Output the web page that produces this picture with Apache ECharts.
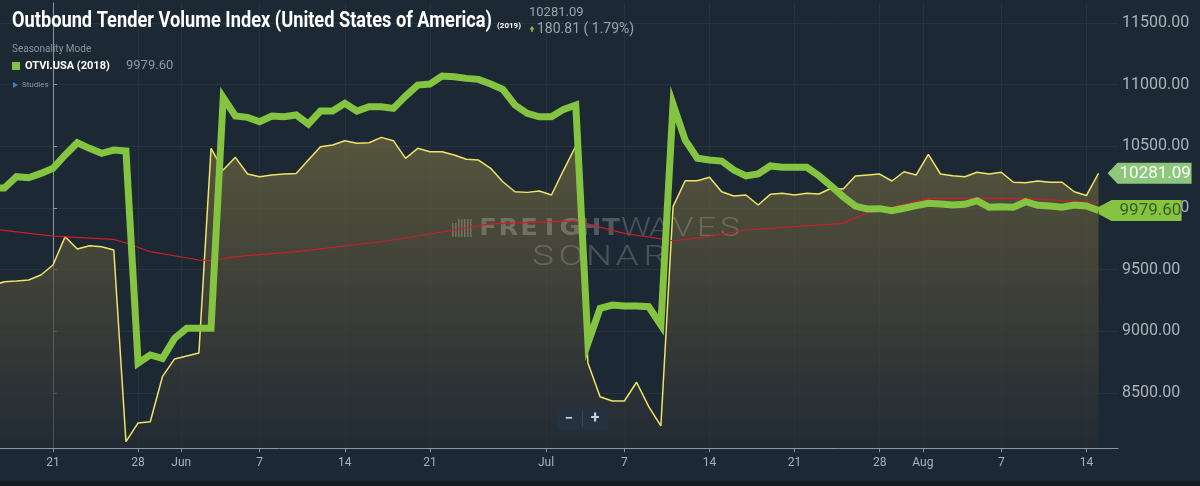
<!DOCTYPE html>
<html><head><meta charset="utf-8">
<script src="https://cdn.jsdelivr.net/npm/echarts@6/dist/echarts.min.js"></script>
<style>html,body{margin:0;padding:0;background:#1c2834;}#c{width:1200px;height:486px;}</style>
</head><body><div id="c"></div>
<script>
// day offsets relative to 21 May (2019 calendar)
const startDay = -5;
const otvi2019 = [9370,9402,9408,9416,9456,9537,9767,9667,9694,9686,9659,8105,8257,8267,8632,8776,8800,8824,
  10483,10307,10410,10275,10253,10267,10275,10278,10388,10496,10510,10545,10524,10528,10572,10545,10402,10483,
  10455,10455,10429,10394,10388,10321,10212,10131,10126,10137,10105,10307,10502,8743,8470,8435,8435,8587,8389,8233,
  10010,10220,10220,10248,10131,10096,10105,10024,10110,10118,10105,10118,10113,10159,10153,10259,10267,10274,
  10218,10293,10267,10434,10275,10261,10253,10289,10275,10289,10208,10204,10218,10208,10208,10131,10100.28,10281.09];
const otvi2018 = [10161,10161,10253,10245,10280,10321,10429,10528,10483,10443,10469,10461,8741,8808,8781,8943,9024,9024,
  9024,10895,10745,10734,10699,10745,10739,10753,10680,10785,10785,10848,10785,10820,10820,10807,10906,10996,
  11004,11069,11063,11050,11042,11004,10961,10834,10767,10739,10739,10799,10834,8903,9186,9213,9205,9205,9199,9051,
  10842,10550,10402,10388,10380,10307,10259,10275,10340,10329,10329,10329,10261,10178,10091,10015,9991,9994,
  9977,9997,10018,10037,10032,10024,10029,10058,10005,10010,10005,10050,10021,10015,10005,10024,10015,9979.6];
const redDays = [-5,0,5,6,8,12,13,15,20,27,33,36,43,47,51,53,57,65,67,68,72,80,86];
const redVals = [9830,9772,9745,9716,9645,9578,9572,9605,9645,9726,9821,9870,9895,9794,9734,9754,9821,9875,9961,9983,10078,10078,10042];
const tickDays = [0,7,11,17,24,31,41,47,54,61,68,72,78,85];
const tickLabels = ['21','28','Jun','7','14','21','Jul','7','14','21','28','Aug','7','14'];
const yTicks = [8500,9000,9500,10000,10500,11000,11500];
const lastValue2019 = 10281.09, change = 180.81, changePct = 1.79, lastValue2018 = 9979.60;

const monthShift = -0.45;
const tickPos = tickDays.map((d,i)=> /[A-Za-z]/.test(tickLabels[i]) ? d + monthShift : d);
const toPairs = (arr)=>arr.map((v,i)=>[startDay+i, v]);

const chart = echarts.init(document.getElementById('c'), null, {renderer:'canvas'});
const FONT = 'Roboto, "Noto Sans", sans-serif';
chart.setOption({
  backgroundColor:'#1c2834',
  animation:false,
  grid:{left:0,right:82,top:3,bottom:38},
  xAxis:{type:'value',min:-4.36,max:87.6,
    axisLine:{show:true,lineStyle:{color:'#8b96a1',width:1}},
    axisTick:{show:true,customValues:tickPos,length:4,lineStyle:{color:'#8b96a1'}},
    axisLabel:{customValues:tickPos,color:'#a9b2bb',fontSize:12,fontFamily:FONT,margin:9,
      formatter:(v)=>{const i=tickPos.findIndex(p=>Math.abs(p-v)<0.01);return i>=0?tickLabels[i]:'';}},
    splitLine:{show:true,lineStyle:{color:'#26323e',width:1}}},
  yAxis:{type:'value',position:'right',min:8054,max:11661,scale:true,
    axisLine:{show:true,lineStyle:{color:'#8b96a1',width:1}},
    axisTick:{show:true,customValues:yTicks,length:4,lineStyle:{color:'#8b96a1'}},
    axisLabel:{customValues:yTicks,color:'#aab3bc',fontSize:16,fontFamily:FONT,margin:4,
      formatter:(v)=>v.toFixed(2)},
    splitLine:{show:true,lineStyle:{color:'#27333f',width:1}}},
  series:[
    {type:'line',name:'2019',data:toPairs(otvi2019),showSymbol:false,z:2,
      lineStyle:{color:'#f2e366',width:1.5},
      areaStyle:{color:new echarts.graphic.LinearGradient(0,0,0,1,[
        {offset:0,color:'#6f6841'},{offset:0.45,color:'#504c3a'},{offset:1,color:'#242c34'}])}},
    {type:'line',name:'red',data:redDays.map((d,i)=>[d,redVals[i]]),showSymbol:false,z:3,
      lineStyle:{color:'#cc1f26',width:1.2}},
    {type:'line',name:'OTVI.USA (2018)',data:toPairs(otvi2018),showSymbol:false,z:4,
      lineStyle:{color:'#84c441',width:7,join:'miter',miterLimit:8}}
  ]
});

// measure text for condensed title
const cv=document.createElement('canvas').getContext('2d');
const title='Outbound Tender Volume Index (United States of America)';
cv.font='bold 22px Roboto';
const tScale=480/cv.measureText(title).width;

const p19=chart.convertToPixel({gridIndex:0},[startDay+otvi2019.length-1,lastValue2019]);
const p18=chart.convertToPixel({gridIndex:0},[startDay+otvi2018.length-1,lastValue2018]);

function spaced(text,x,y,step,font,fill,sx){
  return text.split('').map((ch,i)=>({type:'text',silent:true,z:2.5,x:x+i*step,y:y,scaleX:sx,
    style:{text:ch,x:0,y:0,font:font,fill:fill,textAlign:'center',textVerticalAlign:'middle'}}));
}
const wmBold='rgba(205,205,195,0.30)';
const wmThin='rgba(205,205,195,0.26)';
const g=[];
// watermark
for(let i=0;i<7;i++){g.push({type:'rect',silent:true,z:2.5,shape:{x:452+i*3,y:219+(i<2?4:0),width:1.6,height:(i<2?14:18)},style:{fill:wmBold}});}
g.push(...spaced('FREIGHT',488,229,20.5,'900 23px "DejaVu Sans", Roboto',wmBold,1.12));
g.push(...spaced('WAVES',636,229,23.5,'300 26px Roboto',wmThin,1.3));
g.push(...spaced('SONAR',543,258,28,'300 28px Roboto',wmThin,1.3));
// header
g.push({type:'text',z:10,left:12,top:10,scaleX:tScale,originX:0,style:{text:title,font:'bold 22px Roboto',fill:'#ffffff'}});
g.push({type:'text',z:10,style:{text:'(2019)',x:497,y:26,font:'bold 8px Roboto',fill:'#ffffff',textVerticalAlign:'middle'}});
g.push({type:'text',z:10,style:{text:lastValue2019.toFixed(2),x:529,y:13,font:'13px Roboto',fill:'#9ba4ad',textVerticalAlign:'middle'}});
g.push({type:'polygon',z:10,shape:{points:[[532,26],[529.5,29.5],[534.5,29.5]]},style:{fill:'#84c441'}});
g.push({type:'rect',z:10,shape:{x:531.3,y:29,width:1.4,height:3},style:{fill:'#84c441'}});
g.push({type:'text',z:10,style:{text:change.toFixed(2)+' ( '+changePct.toFixed(2)+'%)',x:537,y:29,font:'14px Roboto',fill:'#9ba4ad',textVerticalAlign:'middle'}});
g.push({type:'text',z:10,style:{text:'Seasonality Mode',x:12,y:49,font:'10px Roboto',fill:'#8a949e',textVerticalAlign:'middle'}});
g.push({type:'rect',z:10,shape:{x:12,y:62,width:8,height:8},style:{fill:'#84c441'}});
g.push({type:'text',z:10,style:{text:'OTVI.USA (2018)',x:25,y:66,font:'bold 11px Roboto',fill:'#ffffff',textVerticalAlign:'middle'}});
g.push({type:'text',z:10,style:{text:lastValue2018.toFixed(2),x:126,y:66,font:'13px Roboto',fill:'#8f99a3',textVerticalAlign:'middle'}});
g.push({type:'polygon',z:10,shape:{points:[[13,82],[13,88],[18,85]]},style:{fill:'#3b7fd4'}});
g.push({type:'text',z:10,style:{text:'Studies',x:22,y:85,font:'8px Roboto',fill:'#8a949e',textVerticalAlign:'middle'}});
// zoom control
g.push({type:'rect',z:10,shape:{x:557,y:408,width:51,height:22,r:2},style:{fill:'#233140'}});
g.push({type:'text',z:11,style:{text:'−',x:569,y:419,font:'bold 15px Roboto',fill:'#c9d0d6',textAlign:'center',textVerticalAlign:'middle'}});
g.push({type:'text',z:11,style:{text:'+',x:595,y:419,font:'bold 16px Roboto',fill:'#c9d0d6',textAlign:'center',textVerticalAlign:'middle'}});
g.push({type:'rect',z:11,shape:{x:582,y:411,width:1,height:16},style:{fill:'#3a4654'}});
// value tags
{const t=p19[0]+9,y=p19[1];
 g.push({type:'polygon',z:20,shape:{points:[[t,y],[t+10,y-10.5],[t+84,y-10.5],[t+84,y+10.5],[t+10,y+10.5]]},style:{fill:'#8cc77b'}});
 g.push({type:'text',z:21,style:{text:lastValue2019.toFixed(2),x:t+12,y:y+0.5,font:'17px Roboto',fill:'#ffffff',textVerticalAlign:'middle'}});}
{const x=p18[0],y=p18[1];
 g.push({type:'polygon',z:20,shape:{points:[[x,y-3.5],[x+13,y-10.5],[x+83,y-10.5],[x+83,y+10.5],[x+13,y+10.5],[x,y+3.5]]},style:{fill:'#84c441'}});
 g.push({type:'text',z:21,style:{text:lastValue2018.toFixed(2),x:x+21,y:y+0.5,font:'17px Roboto',fill:'#3d5a24',textVerticalAlign:'middle'}});}
// bottom frame
g.push({type:'rect',z:5,shape:{x:0,y:481,width:1200,height:5},style:{fill:'#141c24'}});
chart.setOption({graphic:g});
</script></body></html>
